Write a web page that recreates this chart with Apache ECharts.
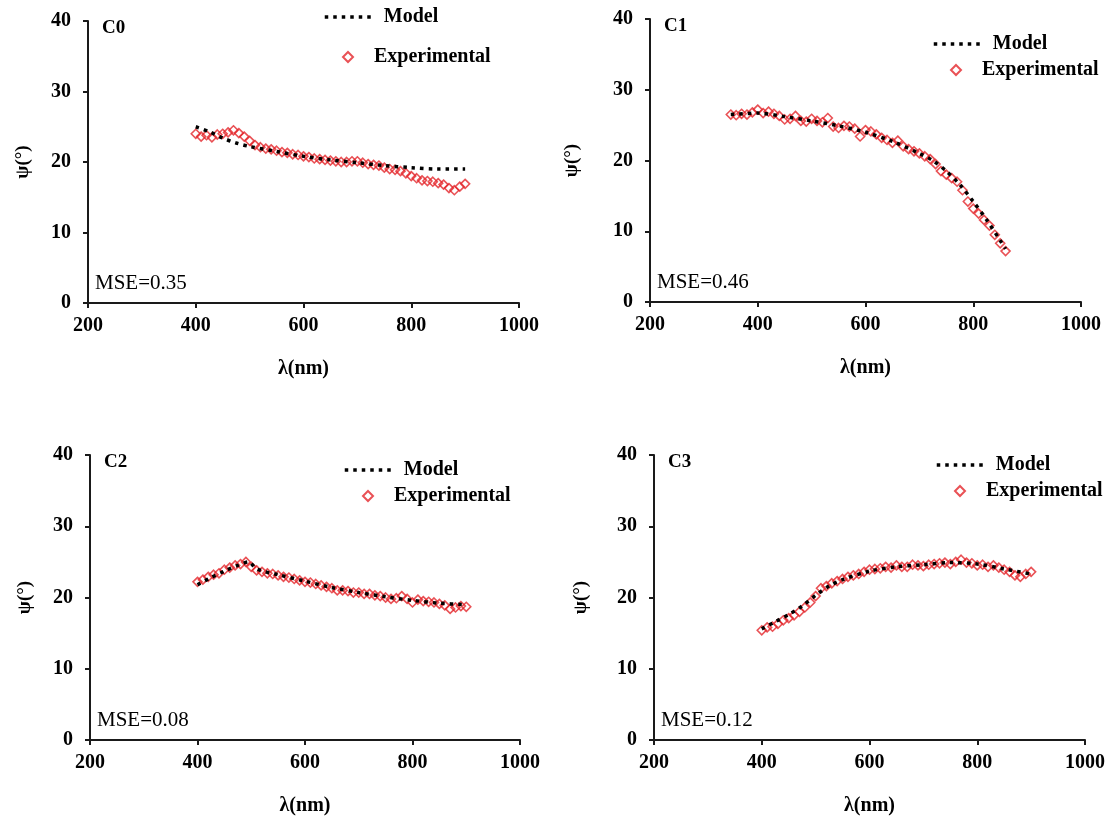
<!DOCTYPE html>
<html>
<head>
<meta charset="UTF-8">
<title>Psi vs wavelength</title>
<script src="https://cdn.jsdelivr.net/npm/echarts@6/dist/echarts.min.js"></script>
<style>
  body { margin: 0; background: #fff; }
  #chart { width: 1114px; height: 821px; }
</style>
</head>
<body>
<div id="chart"></div>
<script>
// wavelength (nm) / psi (deg)
const c0ExpX = [400,410,420,430,440,450,460,470,480,490,500,510,520,530,540,550,560,570,580,590,600,610,620,630,640,650,660,670,680,690,700,710,720,730,740,750,760,770,780,790,800,810,820,830,840,850,860,870,880,890,900];
const c0ExpY = [24.0,23.6,23.8,23.5,23.9,24.0,24.2,24.5,24.1,23.6,23.0,22.4,22.1,21.9,21.8,21.6,21.4,21.3,21.1,21.0,20.8,20.7,20.5,20.4,20.3,20.2,20.1,20.0,20.0,20.1,20.1,19.9,19.7,19.6,19.5,19.2,19.0,18.9,18.7,18.4,18.0,17.7,17.4,17.3,17.2,17.0,16.8,16.3,16.0,16.5,16.9];
const c0ModX = [400,425,450,475,500,550,600,650,700,750,800,850,900];
const c0ModY = [25.0,24.3,23.4,22.7,22.2,21.5,20.8,20.3,19.9,19.5,19.2,19.0,19.0];

const c1ExpX = [350,360,370,380,390,400,410,420,430,440,450,460,470,480,490,500,510,520,530,540,550,560,570,580,590,600,610,620,630,640,650,660,670,680,690,700,710,720,730,740,750,760,770,780,790,800,810,820,830,840,850,860];
const c1ExpY = [26.5,26.4,26.6,26.5,26.8,27.2,26.7,26.9,26.6,26.3,25.8,25.9,26.3,25.6,25.5,25.9,25.6,25.4,26.0,24.8,24.6,24.9,24.8,24.5,23.4,24.3,24.1,23.7,23.2,22.9,22.5,22.8,22.0,21.6,21.3,21.0,20.6,20.2,19.5,18.5,18.0,17.5,17.0,15.8,14.2,13.2,12.5,11.6,10.8,9.5,8.3,7.2];
const c1ModX = [350,400,450,500,550,600,650,700,725,750,775,800,825,850,860];
const c1ModY = [26.5,26.7,26.2,25.6,24.9,24.0,22.7,21.0,20.0,18.5,16.6,14.2,11.6,8.7,7.5];

const c2ExpX = [400,410,420,430,440,450,460,470,480,490,500,510,520,530,540,550,560,570,580,590,600,610,620,630,640,650,660,670,680,690,700,710,720,730,740,750,760,770,780,790,800,810,820,830,840,850,860,870,880,890,900];
const c2ExpY = [22.2,22.5,22.9,23.2,23.4,23.9,24.2,24.5,24.7,25.0,24.3,23.8,23.6,23.4,23.3,23.1,22.9,22.8,22.6,22.4,22.2,22.1,21.9,21.7,21.5,21.3,21.0,21.0,20.9,20.7,20.7,20.5,20.5,20.3,20.2,20.0,19.8,19.9,20.2,19.8,19.3,19.7,19.5,19.4,19.3,19.1,18.9,18.4,18.6,18.8,18.7];
const c2ModX = [400,425,450,475,495,510,550,600,650,700,750,800,850,900];
const c2ModY = [21.8,22.8,23.7,24.5,25.0,24.0,23.2,22.3,21.4,20.7,20.1,19.6,19.2,19.0];

const c3ExpX = [400,410,420,430,440,450,460,470,480,490,500,510,520,530,540,550,560,570,580,590,600,610,620,630,640,650,660,670,680,690,700,710,720,730,740,750,760,770,780,790,800,810,820,830,840,850,860,870,880,890,900];
const c3ExpY = [15.4,15.8,15.9,16.3,16.8,17.1,17.5,18.0,18.6,19.3,20.2,21.3,21.6,22.0,22.3,22.6,22.9,23.1,23.3,23.6,23.9,24.0,24.1,24.3,24.2,24.5,24.3,24.3,24.6,24.5,24.4,24.6,24.7,24.8,24.9,24.7,25.0,25.3,24.9,24.8,24.5,24.6,24.3,24.5,24.2,23.9,23.6,23.1,22.9,23.3,23.6];
const c3ModX = [400,425,450,475,500,525,550,600,650,700,750,800,850,900];
const c3ModY = [15.6,16.6,17.6,18.8,20.3,21.6,22.5,23.7,24.3,24.6,24.9,24.7,24.0,23.3];

const panelNames = ['C0', 'C1', 'C2', 'C3'];
const mseLabels = ['MSE=0.35', 'MSE=0.46', 'MSE=0.08', 'MSE=0.12'];
const xTicks = { min: 200, max: 1000, interval: 200 };
const yTicks = { min: 0, max: 40, interval: 10 };

const panels = [
  { expX: c0ExpX, expY: c0ExpY, modX: c0ModX, modY: c0ModY },
  { expX: c1ExpX, expY: c1ExpY, modX: c1ModX, modY: c1ModY },
  { expX: c2ExpX, expY: c2ExpY, modX: c2ModX, modY: c2ModY },
  { expX: c3ExpX, expY: c3ExpY, modX: c3ModX, modY: c3ModY }
];

// layout of the four plots (pixels); legend rows given as [left, centre y]
const boxes = [
  { left: 88, top: 21, width: 431, height: 282, yGap: 55, modLeg: [323, 18], expLeg: [342, 58] },
  { left: 650, top: 19, width: 431, height: 283, yGap: 68, modLeg: [932, 45], expLeg: [950, 71] },
  { left: 90, top: 455, width: 430, height: 285, yGap: 55, modLeg: [343, 471], expLeg: [362, 497] },
  { left: 654, top: 455, width: 431, height: 285, yGap: 63, modLeg: [935, 466], expLeg: [954, 492] }
];

const serif = 'Liberation Serif';
const black = '#000';
const red = '#e3262b';
const axisColor = '#1a1a1a';

const zip = (xs, ys) => xs.map((x, i) => [x, ys[i]]);

const grid = [], xAxis = [], yAxis = [], series = [], legend = [], title = [];

boxes.forEach((b, i) => {
  grid.push({ left: b.left, top: b.top, width: b.width, height: b.height });
  xAxis.push({
    gridIndex: i, type: 'value', min: xTicks.min, max: xTicks.max, interval: xTicks.interval,
    name: 'λ(nm)', nameLocation: 'middle', nameGap: 56,
    nameTextStyle: { fontFamily: serif, fontWeight: 'bold', fontSize: 20, color: black },
    splitLine: { show: false },
    axisLine: { lineStyle: { color: axisColor, width: 2 } },
    axisTick: { length: 5, lineStyle: { color: axisColor, width: 2 } },
    axisLabel: {
      fontFamily: serif, fontWeight: 'bold', fontSize: 20, color: black, margin: 13,
      formatter: v => String(v)
    }
  });
  yAxis.push({
    gridIndex: i, type: 'value', min: yTicks.min, max: yTicks.max, interval: yTicks.interval,
    name: 'ψ(°)', nameLocation: 'middle', nameGap: b.yGap, nameRotate: 90,
    nameTextStyle: { fontFamily: serif, fontWeight: 'bold', fontSize: 19, color: black },
    splitLine: { show: false },
    axisLine: { lineStyle: { color: axisColor, width: 2 } },
    axisTick: { length: 5, lineStyle: { color: axisColor, width: 2 } },
    axisLabel: { fontFamily: serif, fontWeight: 'bold', fontSize: 20, color: black, margin: 17 }
  });
  const p = panels[i];
  series.push({
    name: 'Experimental', type: 'scatter', xAxisIndex: i, yAxisIndex: i,
    data: zip(p.expX, p.expY),
    symbol: 'diamond', symbolSize: 9,
    itemStyle: { color: 'rgba(255,255,255,0)', borderColor: red, borderWidth: 1.6 },
    z: 2
  });
  series.push({
    name: 'Model', type: 'line', xAxisIndex: i, yAxisIndex: i,
    data: zip(p.modX, p.modY),
    smooth: 0.3, showSymbol: false, symbol: 'none',
    itemStyle: { color: black },
    lineStyle: { color: black, width: 3.5, type: [3.5, 5] },
    z: 3
  });
  legend.push({
    left: b.modLeg[0], top: b.modLeg[1] - 11, padding: 0,
    itemWidth: 50, itemHeight: 12,
    data: [{
      name: 'Model', itemStyle: { opacity: 0 },
      lineStyle: { color: black, width: 3.5, type: [3.5, 5] }
    }],
    textStyle: { fontFamily: serif, fontWeight: 'bold', fontSize: 20, color: black, padding: [0, 0, 0, 4] }
  });
  legend.push({
    left: b.expLeg[0], top: b.expLeg[1] - 11, padding: 0,
    itemWidth: 10, itemHeight: 10,
    data: ['Experimental'],
    textStyle: { fontFamily: serif, fontWeight: 'bold', fontSize: 20, color: black, padding: [0, 0, 0, 16] }
  });
  title.push({
    text: panelNames[i], left: b.left + 14, top: b.top - 2, padding: 0,
    textStyle: { fontFamily: serif, fontWeight: 'bold', fontSize: 19, color: black }
  });
  title.push({
    text: mseLabels[i], left: b.left + 7, top: b.top + b.height - 30, padding: 0,
    textStyle: { fontFamily: serif, fontWeight: 'normal', fontSize: 21, color: black }
  });
});

const chart = echarts.init(document.getElementById('chart'));
chart.setOption({
  backgroundColor: '#fff',
  animation: false,
  title, grid, xAxis, yAxis, legend, series
});
</script>
</body>
</html>
